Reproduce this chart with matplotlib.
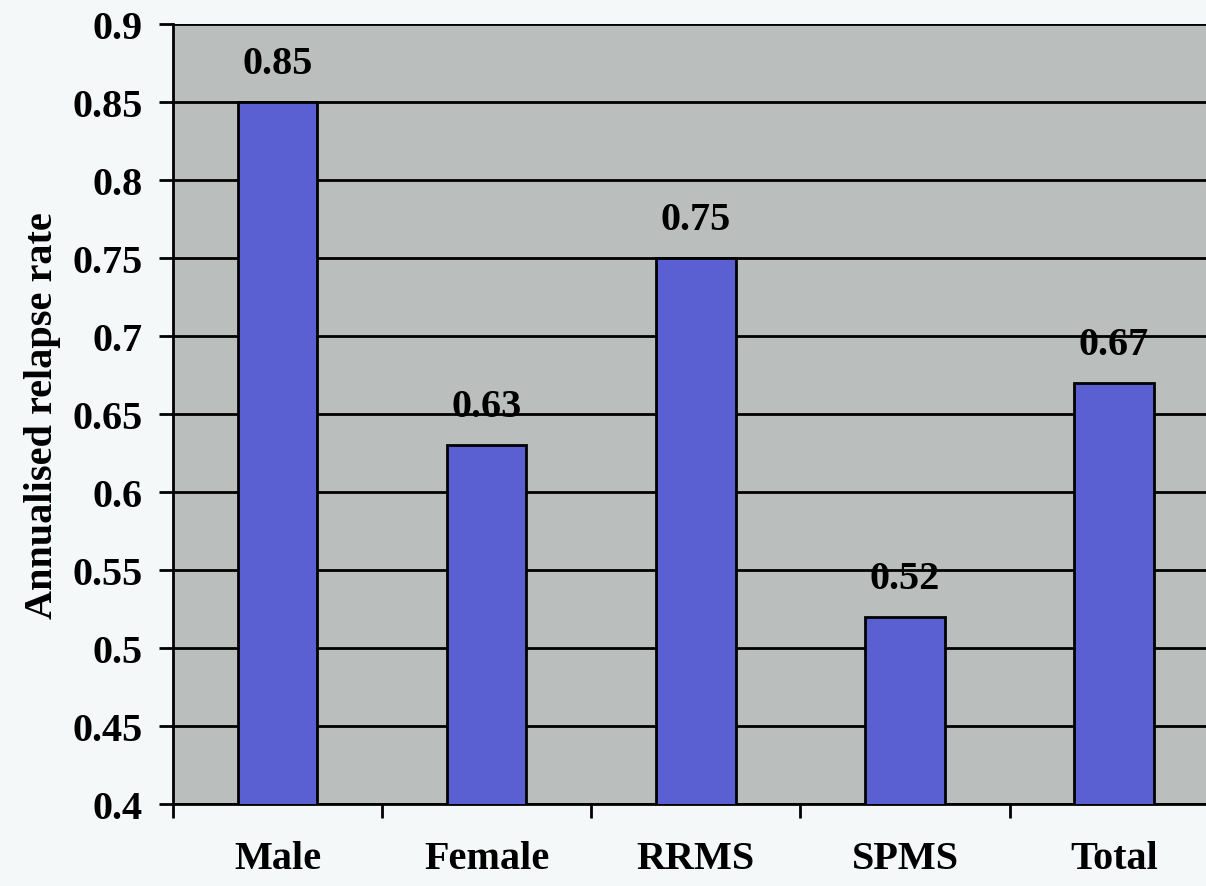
import numpy as np
import matplotlib.pyplot as plt
from matplotlib.ticker import FixedLocator, MultipleLocator

# data
categories = ['Male', 'Female', 'RRMS', 'SPMS', 'Total']
rates = [0.85, 0.63, 0.75, 0.52, 0.67]
value_labels = ['0.85', '0.63', '0.75', '0.52', '0.67']

plt.rcParams['font.family'] = ['Liberation Serif', 'DejaVu Serif']
plt.rcParams['font.weight'] = 'bold'

fig = plt.figure(figsize=(12.06, 8.87), dpi=100, facecolor='#f4f8f8')
# plot area runs off the right edge of the picture, like the reference
ax = fig.add_axes([0.1435, 0.0924, 0.867, 0.879])
ax.set_facecolor('#babfbe')

x = np.arange(len(categories))
ax.bar(x, rates, width=0.38, bottom=0, color='#5a5fd2', edgecolor='black',
       linewidth=2, zorder=3)

for xi, v, lab in zip(x, rates, value_labels):
    ax.annotate(lab, (xi, v), xytext=(0, 28), textcoords='offset points',
                ha='center', va='center', fontsize=29, fontweight='bold')

ax.set_ylim(0.4, 0.9)
ax.set_xlim(-0.5, len(categories) - 0.5)
ax.yaxis.set_major_locator(MultipleLocator(0.05))
ax.set_yticklabels([f'{t:g}' for t in ax.get_yticks()])
ax.grid(axis='y', color='black', linewidth=2, zorder=1)

# ticks at category boundaries, labels at centers
ax.xaxis.set_major_locator(FixedLocator(np.arange(len(categories) + 1) - 0.5))
ax.xaxis.set_minor_locator(FixedLocator(x))
ax.set_xticklabels([], minor=False)
ax.set_xticklabels(categories, minor=True)
ax.tick_params(axis='x', which='major', length=10, width=2, direction='out')
ax.tick_params(axis='x', which='minor', length=0, pad=26, labelsize=29)
ax.tick_params(axis='y', length=10, width=2, direction='out', labelsize=29, pad=12)
for lab in ax.get_xticklabels(minor=True) + ax.get_yticklabels():
    lab.set_fontweight('bold')

for s in ['left', 'bottom']:
    ax.spines[s].set_linewidth(2)
ax.spines['top'].set_visible(False)
ax.spines['right'].set_visible(False)

ax.set_ylabel('Annualised relapse rate', fontsize=29, fontweight='bold', labelpad=8)

fig.savefig('out.png', dpi=100, facecolor=fig.get_facecolor())
